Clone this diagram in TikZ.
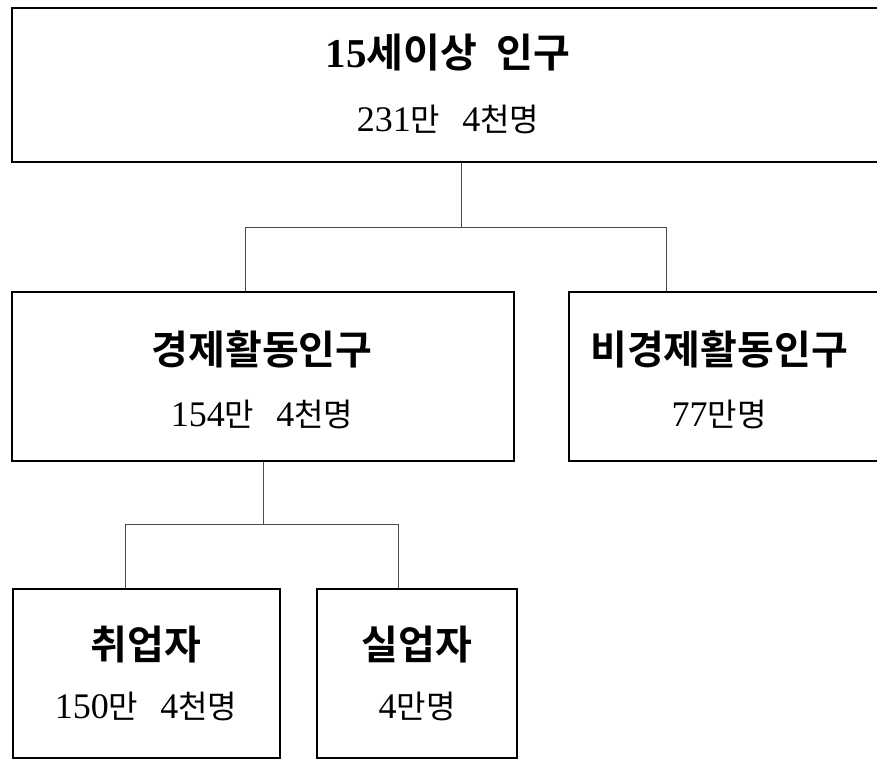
\documentclass[tikz,border=0pt]{standalone}
\usepackage{fontspec}
\setmainfont{Noto Sans CJK KR}
\newfontfamily\krttl{Noto Sans CJK KR Bold}
\newfontfamily\krnum{Noto Sans CJK KR}
\newfontfamily\dgt{Liberation Serif}
\newfontfamily\dgtb{Liberation Serif Bold}
\newcommand{\Dg}[1]{{\fontsize{36}{38}\dgt #1}}
\newcommand{\Dgb}[1]{{\fontsize{41}{44}\dgtb #1}}
\newcommand{\ttlfont}{\fontsize{40}{42}\krttl\spaceskip 20pt\relax}
\newcommand{\numfont}{\fontsize{32}{34}\krnum\spaceskip 22pt\relax}
\begin{document}
\begin{tikzpicture}[x=1pt,y=1pt,
  box/.style={draw=black,line width=2pt,rectangle,inner sep=0pt},
  ttl/.style={inner sep=0pt,font=\ttlfont},
  num/.style={inner sep=0pt,font=\numfont},
  conn/.style={draw=black!70,line width=0.9pt}]
\useasboundingbox (0,0) rectangle (877,-759);
% boxes
\node[box,minimum width=868,minimum height=154] (top) at (446,-85) {};
\node[box,minimum width=502,minimum height=169] (econ) at (263,-376.5) {};
\node[box,minimum width=316,minimum height=169] (nonecon) at (727,-376.5) {};
\node[box,minimum width=267.5,minimum height=169] (emp) at (146.25,-673.5) {};
\node[box,minimum width=200.5,minimum height=169] (unemp) at (416.75,-673.5) {};
% labels
\node[ttl] (topT) at (448,-53) {\Dgb{15}세이상 인구};
\node[num] (topN) at (448,-119) {\Dg{231}만 \Dg{4}천명};
\node[ttl] (econT) at (262,-349) {경제활동인구};
\node[num] (econN) at (262,-414) {\Dg{154}만 \Dg{4}천명};
\node[ttl] (nonT) at (719,-349) {비경제활동인구};
\node[num] (nonN) at (719,-414) {\Dg{77}만명};
\node[ttl] (empT) at (146,-645) {취업자};
\node[num] (empN) at (146,-706) {\Dg{150}만 \Dg{4}천명};
\node[ttl] (unT) at (417,-645) {실업자};
\node[num] (unN) at (417,-706) {\Dg{4}만명};
% connectors
\coordinate (j1) at (461,-227);
\coordinate (j1l) at (245,-227);
\coordinate (j1r) at (666,-227);
\draw[conn] (top.south -| j1) -- (j1);
\draw[conn] (econ.north -| j1l) -- (j1l) -- (j1r) -- (nonecon.north -| j1r);
\coordinate (j2) at (263,-524);
\coordinate (j2l) at (125,-524);
\coordinate (j2r) at (398,-524);
\draw[conn] (econ.south) -- (j2);
\draw[conn] (emp.north -| j2l) -- (j2l) -- (j2r) -- (unemp.north -| j2r);
\end{tikzpicture}
\end{document}
